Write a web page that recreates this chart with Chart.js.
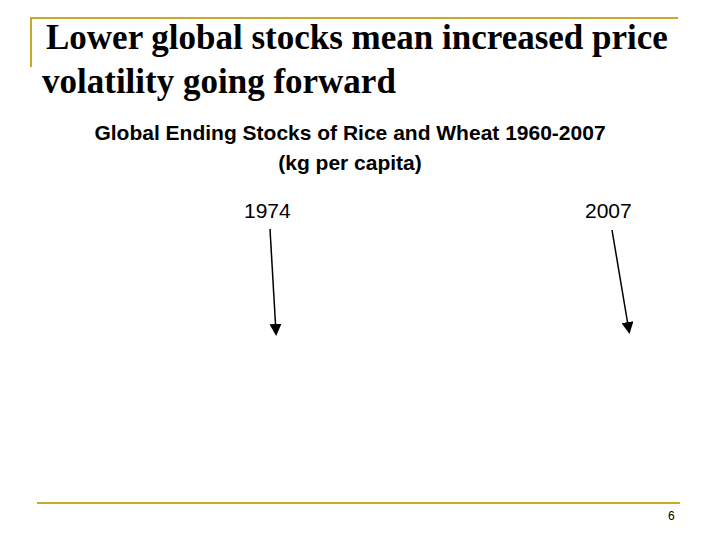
<!DOCTYPE html>
<html><head><meta charset="utf-8">
<script src="https://cdn.jsdelivr.net/npm/chart.js@4"></script>
<style>
body{margin:0;width:720px;height:540px;background:#fff;position:relative;overflow:hidden;font-family:"Liberation Sans",Arial,sans-serif}
.t{position:absolute;font-family:"Liberation Serif","Times New Roman",serif;font-weight:bold;font-size:35px;color:#000;white-space:nowrap}
.s{position:absolute;left:0;width:700px;text-align:center;font-size:21px;font-weight:bold;line-height:30px;top:118px}
.lab{position:absolute;font-size:21px}
#cw{position:absolute;left:40px;top:190px;width:640px;height:300px}
</style></head><body>
<div style="position:absolute;left:30px;top:17px;width:648px;height:2px;background:#c8a82a"></div>
<div style="position:absolute;left:30px;top:17px;width:2px;height:50px;background:#c8a82a"></div>
<div style="position:absolute;left:37px;top:502px;width:643px;height:2px;background:#c8a82a"></div>
<div class="t" style="left:46px;top:18px">Lower global stocks mean increased price</div>
<div class="t" style="left:42px;top:62px">volatility going forward</div>
<div class="s">Global Ending Stocks of Rice and Wheat 1960-2007<br>(kg per capita)</div>
<div class="lab" style="left:244px;top:199px">1974</div>
<div class="lab" style="left:585px;top:199px">2007</div>
<div style="position:absolute;left:668px;top:509px;font-size:12px">6</div>
<div id="cw"><canvas id="c"></canvas></div>
<svg width="720" height="540" style="position:absolute;left:0;top:0">
<defs><marker id="a" markerWidth="8" markerHeight="8" refX="6" refY="4" orient="auto"><path d="M0,0 L8,4 L0,8 z" fill="#000"/></marker></defs>
<line x1="270" y1="229" x2="276" y2="333" stroke="#000" stroke-width="1.5" marker-end="url(#a)"/>
<line x1="612" y1="230" x2="629" y2="331" stroke="#000" stroke-width="1.5" marker-end="url(#a)"/>
</svg>
<script>
const years = [];
const stocks = [];
new Chart(document.getElementById('c'), {
  type: 'line',
  data: { labels: years, datasets: [{ data: stocks }] },
  options: { responsive: true, maintainAspectRatio: false, animation: false,
    plugins: { legend: { display: false }, tooltip: { enabled: false } },
    scales: { x: { display: false }, y: { display: false } } }
});
</script>
</body></html>
